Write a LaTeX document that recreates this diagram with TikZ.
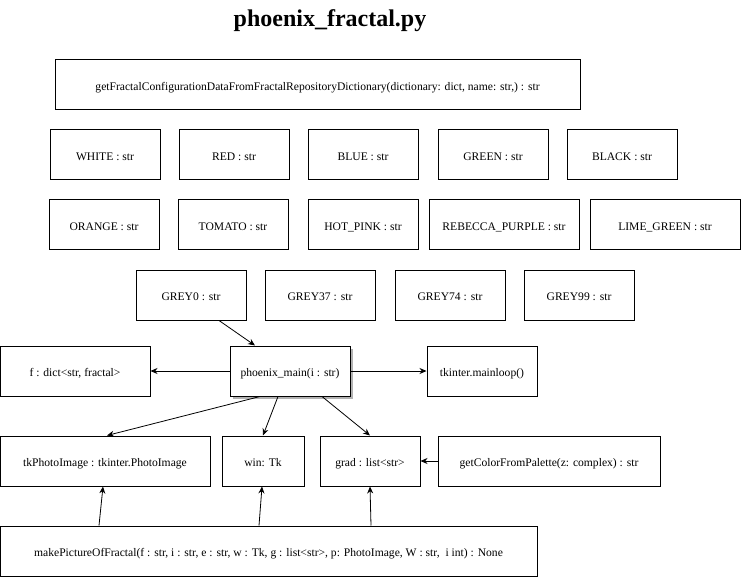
\documentclass[tikz,border=0pt]{standalone}
\usepackage{fontspec}
\setmainfont{Liberation Serif}
\usetikzlibrary{arrows.meta,shadows}
\begin{document}
\begin{tikzpicture}[x=1pt,y=-1pt,
  box/.style={draw=black,line width=1pt,fill=white,inner sep=0pt,minimum height=50pt,text height=11pt,text depth=0pt,font=\fontsize{11.6}{14}\selectfont},
  arr/.style={-{Stealth[length=7pt,width=6pt]},line width=0.8pt},
  shad/.style={drop shadow={shadow xshift=3pt,shadow yshift=-3pt,fill=black!30,opacity=1}}]
\useasboundingbox (0,0) rectangle (741,577);
\node[font=\bfseries\fontsize{24}{28}\selectfont] (title) at (330,21) {phoenix\_fractal.py};
\node[box,minimum width=525pt] (cfg) at (317.5,85) {getFractalConfigurationDataFromFractalRepositoryDictionary(dictionary: dict, name: str,) : str};
% row 1
\node[box,minimum width=110pt] (white) at (105,155) {WHITE : str};
\node[box,minimum width=110pt] (red) at (234,155) {RED : str};
\node[box,minimum width=110pt] (blue) at (363,155) {BLUE : str};
\node[box,minimum width=110pt] (green) at (493,155) {GREEN : str};
\node[box,minimum width=110pt] (black) at (622,155) {BLACK : str};
% row 2
\node[box,minimum width=110pt] (orange) at (104,225) {ORANGE : str};
\node[box,minimum width=110pt] (tomato) at (233,225) {TOMATO : str};
\node[box,minimum width=110pt] (hotpink) at (363,225) {HOT\_PINK : str};
\node[box,minimum width=150pt] (rebecca) at (504,225) {REBECCA\_PURPLE : str};
\node[box,minimum width=150pt] (lime) at (665,225) {LIME\_GREEN : str};
% row 3
\node[box,minimum width=110pt] (grey0) at (191,295) {GREY0 : str};
\node[box,minimum width=110pt] (grey37) at (320,295) {GREY37 : str};
\node[box,minimum width=110pt] (grey74) at (450,295) {GREY74 : str};
\node[box,minimum width=110pt] (grey99) at (579,295) {GREY99 : str};
% row 4
\node[box,minimum width=150pt] (f) at (75,371) {f : dict<str, fractal>};
\node[box,shad,minimum width=120pt] (main) at (290,371) {phoenix\_main(i : str)};
\node[box,minimum width=110pt] (loop) at (482,371) {tkinter.mainloop()};
% row 5
\node[box,minimum width=210pt] (tkp) at (105,461) {tkPhotoImage : tkinter.PhotoImage};
\node[box,minimum width=82pt] (win) at (263,461) {win: Tk};
\node[box,minimum width=100pt] (grad) at (370,461) {grad : list<str>};
\node[box,minimum width=222pt] (gcp) at (549,461) {getColorFromPalette(z: complex) : str};
% bottom
\node[box,minimum width=537pt] (mk) at (268.5,551) {makePictureOfFractal(f : str, i : str, e : str, w : Tk, g : list<str>, p: PhotoImage, W : str,\ \ i int) : None};
% connectors
\draw[arr] (grey0.south -| 219,0) -- (main.north -| 255,0);
\draw[arr] (main.west) -- (f.east);
\draw[arr] (main.east) -- (loop.west);
\draw[arr] (main.south -| 260,0) -- (tkp.north -| 107,0);
\draw[arr] (main.south -| 278,0) -- (win.north -| 263,0);
\draw[arr] (main.south -| 322,0) -- (grad.north -| 370,0);
\draw[arr] (gcp.west) -- (grad.east);
\draw[arr] (mk.north -| 99,0) -- (tkp.south -| 103,0);
\draw[arr] (mk.north -| 259,0) -- (win.south -| 262,0);
\draw[arr] (mk.north -| 371,0) -- (grad.south -| 370,0);
\end{tikzpicture}
\end{document}
